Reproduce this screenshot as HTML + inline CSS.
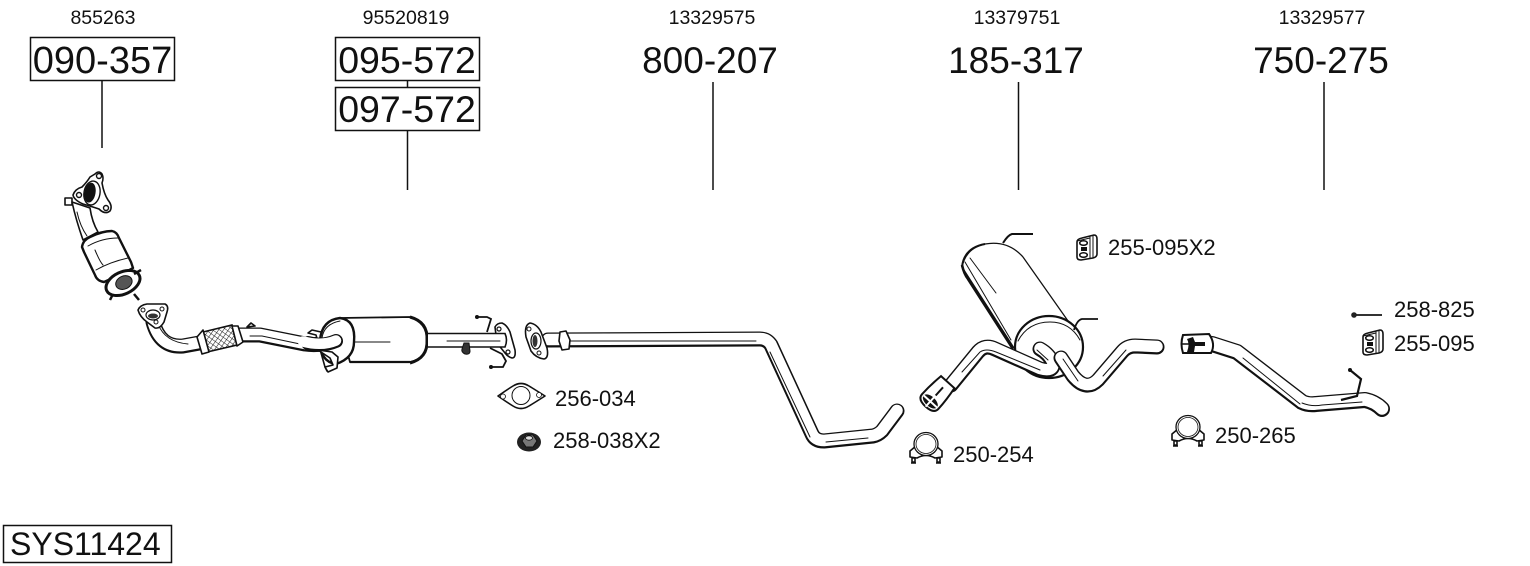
<!DOCTYPE html>
<html><head><meta charset="utf-8"><style>
html,body{margin:0;padding:0;background:#fff;width:1530px;height:566px;overflow:hidden}
svg{display:block}
text{font-family:"Liberation Sans",sans-serif;fill:#111}
.s{font-size:19.500px}.b{font-size:37px}.m{font-size:22px}
.k{fill:none;stroke:#111;stroke-linejoin:round;stroke-linecap:round}
.w{fill:none;stroke:#fff;stroke-linejoin:round;stroke-linecap:round;transform:translate(0,-.5px)}
.f{fill:#fff;stroke:#111;stroke-width:1.6;stroke-linejoin:round}
.t{fill:none;stroke:#111;stroke-width:1;stroke-linecap:round}
</style></head><body>
<svg width="1530" height="566" viewBox="0 0 1530 566" xmlns="http://www.w3.org/2000/svg">
<defs>
<pattern id="h" width="4" height="4" patternUnits="userSpaceOnUse" patternTransform="rotate(35)">
<rect width="4" height="4" fill="#fff"/><path d="M0 0H4M0 0V4" stroke="#222" stroke-width="1.100"/></pattern>
<g id="clamp">
<path class="f" d="M-10,2 L-16,7 L-16,13 L-9,14 Q0,9 9,14 L16,13 L16,7 L10,2Z" stroke-width="1.200"/>
<ellipse cx="0" cy="0" rx="12" ry="11.500" fill="#fff" stroke="#111" stroke-width="1.300"/>
<ellipse cx="0" cy="0" rx="10" ry="9.500" fill="#fff" stroke="#111" stroke-width=".8"/>
<path class="f" d="M-14,14h3v4h-3zM11,14h3v4h-3z" stroke-width="1.100"/>
<path d="M-15,19h5M10,19h5" stroke="#111" stroke-width="1.500"/></g>
<g id="rub"><path class="f" d="M-10,-6 Q-10,-9 -5,-10 L7,-13 Q10,-13 10,-9 L10,6 Q10,9 6,10 L-6,12 Q-10,12 -10,9Z" stroke-width="1.800"/>
<path class="t" d="M3,-11 L3,10M6,-12 L6,10" stroke-width="1.400"/>
<path d="M-10,-7 L3,-10" stroke="#111" stroke-width="1"/>
<ellipse cx="-3.500" cy="-5" rx="3.800" ry="2.300" fill="#fff" stroke="#111" stroke-width="1.500"/><ellipse cx="-3.500" cy="7" rx="3.800" ry="2.300" fill="#fff" stroke="#111" stroke-width="1.500"/><rect x="-6" y="-1" width="6" height="4" fill="#111"/></g>
</defs>

<!-- labels -->
<text class="s" x="103" y="24" text-anchor="middle">855263</text>
<text class="s" x="406" y="24" text-anchor="middle">95520819</text>
<text class="s" x="712" y="24" text-anchor="middle">13329575</text>
<text class="s" x="1017" y="24" text-anchor="middle">13379751</text>
<text class="s" x="1322" y="24" text-anchor="middle">13329577</text>

<rect x="30.500" y="37.500" width="144" height="43" fill="#fff" stroke="#111" stroke-width="1.500"/>
<rect x="335.500" y="37.500" width="144" height="43" fill="#fff" stroke="#111" stroke-width="1.500"/>
<rect x="335.500" y="87.500" width="144" height="43" fill="#fff" stroke="#111" stroke-width="1.500"/>
<rect x="3.500" y="525.500" width="168" height="37" fill="#fff" stroke="#111" stroke-width="1.500"/>
<path d="M102,80V148M407.500,80V87M407.500,130V190M713,82V190M1018.500,82V190M1324,82V190" stroke="#111" stroke-width="1.500" fill="none"/>

<text x="102.500" y="73" text-anchor="middle" style="font-size:38px">090-357</text>
<text x="407" y="73" text-anchor="middle" style="font-size:37.500px">095-572</text>
<text x="407" y="122" text-anchor="middle" style="font-size:37.500px">097-572</text>
<text class="b" x="710" y="73" text-anchor="middle">800-207</text>
<text class="b" x="1016" y="73" text-anchor="middle">185-317</text>
<text class="b" x="1321" y="73" text-anchor="middle">750-275</text>
<text x="10" y="555" style="font-size:32px">SYS11424</text>

<text class="m" x="1108" y="255">255-095X2</text>
<text class="m" x="1394" y="317">258-825</text>
<text class="m" x="1394" y="351">255-095</text>
<text class="m" x="555" y="406">256-034</text>
<text class="m" x="553" y="448">258-038X2</text>
<text class="m" x="953" y="462">250-254</text>
<text class="m" x="1215" y="443">250-265</text>

<!-- catalytic converter -->
<path class="f" d="M65,198h7v7h-7z" stroke-width="1.400"/>
<path class="f" d="M72,202 Q76,220 83,240 L98,232 Q92,222 90,208Z" stroke-width="2"/>
<path class="t" d="M77,212 Q80,226 87,236"/>
<path d="M82,247 Q83,240 90,237 Q102,231 112,231 Q117,232 119,238 L131,262 L133,268 Q118,276 104,282 Q97,281 95,275 L84,252Z" fill="#fff" stroke="#111" stroke-width="2.400" stroke-linejoin="round"/>
<path class="t" d="M88,246 Q102,238 118,238M96,270 Q110,262 128,258M95,250 Q100,262 103,265"/>
<g transform="rotate(-25 123 283)"><ellipse cx="123" cy="283" rx="18" ry="11" fill="#fff" stroke="#111" stroke-width="3"/><ellipse cx="124" cy="283" rx="8.500" ry="6.500" fill="#555" stroke="#111" stroke-width="1"/></g>
<path d="M134,274l7,-4M134,294l5,6M113,294l-3,6" stroke="#111" stroke-width="2.500" fill="none"/>
<path class="f" stroke-width="2.600" d="M95,174 Q99,170 102,174 Q104,178 102,183 Q104,194 108,200 Q113,206 110,211 Q105,215 99,209 Q90,206 83,204 Q74,200 73,195 Q75,189 82,187 Q87,182 90,177Z"/>
<g transform="rotate(10 92 193)"><ellipse cx="92" cy="193" rx="8" ry="12" fill="#fff" stroke="#111" stroke-width="1.400"/><ellipse cx="90" cy="193" rx="5.500" ry="10" fill="#111"/></g>
<circle cx="99" cy="176" r="2.500" fill="#fff" stroke="#111" stroke-width="1.400"/><circle cx="79" cy="195" r="2.500" fill="#fff" stroke="#111" stroke-width="1.400"/><circle cx="106" cy="208" r="2.500" fill="#fff" stroke="#111" stroke-width="1.400"/>

<!-- front pipe -->
<path class="k" stroke-width="15" d="M153,322 Q160,348 183,346 L205,342"/>
<path class="w" stroke-width="11.500" d="M153,322 Q160,348 183,346 L205,342"/>
<path class="t" d="M158,324 Q165,342 188,344"/>
<path class="f" stroke-width="2.400" d="M138,310 Q140,305 147,304 L165,304 Q169,306 167,312 L164,322 Q160,329 155,328 L147,322 Q140,317 138,310Z"/>
<ellipse cx="153" cy="315" rx="7" ry="5" fill="#fff" stroke="#111" stroke-width="1.200"/><ellipse cx="153" cy="316" rx="5" ry="2.500" fill="#333"/>
<circle cx="143" cy="310" r="2" fill="#fff" stroke="#111"/><circle cx="162" cy="309" r="2" fill="#fff" stroke="#111"/><circle cx="156" cy="322" r="2" fill="#fff" stroke="#111"/>
<path class="k" stroke-width="15" d="M238,335 L260,335 L305,344 Q320,346 337,341"/>
<path class="w" stroke-width="11.500" d="M238,335 L260,335 L305,344 Q320,346 337,341"/>
<path class="t" d="M250,336 L262,336 L300,344"/>
<path d="M203,332 L232,325 L237,345 L207,352Z" fill="url(#h)" stroke="#111" stroke-width="1.600"/>
<path class="f" stroke-width="1.800" d="M197,337 L203,330 L209,352 L202,354Z"/>
<path class="f" stroke-width="1.800" d="M232,326 L238,326 L243,342 L237,346Z"/>
<path class="f" stroke-width="1.400" d="M247,327 l4,-4 l4,3z"/>

<!-- middle silencer -->
<path class="f" stroke-width="1.800" d="M316,335 L308,333 L312,330 L321,332 L338,352 L337,367 L327,371 L325,367 Z"/>
<path d="M340,318 L410,317 Q428,322 427,340 Q428,358 410,362 L350,362 Q344,342 340,318Z" fill="#fff" stroke="#111" stroke-width="1.800"/>
<path d="M410,317 Q428,322 427,340 Q428,358 410,363" fill="none" stroke="#111" stroke-width="3"/>
<path d="M350,362 H410" stroke="#111" stroke-width="2.200"/>
<path class="t" d="M355,342 L390,342"/>
<path d="M340,318 Q356,320 354,342 Q354,358 336,364 Q320,362 320,340 Q322,320 340,318Z" fill="#fff" stroke="#111" stroke-width="2.400"/>
<path class="t" d="M340,321 Q324,324 322,338"/>
<path class="k" stroke-width="14" d="M308,343 Q322,347 336,341"/><path class="w" stroke-width="10.500" d="M303,342 Q322,347 336,341"/>
<path class="f" stroke-width="1.800" d="M318,350 L332,352 L338,357 L337,368 L328,372 L325,367 L333,365 L330,358Z"/>

<!-- flange + outlet -->
<path class="f" stroke-width="2.600" d="M495,327 Q497,323 502,323 Q507,325 510,332 L515,350 Q516,358 512,358 Q508,357 505,353 L497,343Z"/>
<circle cx="499" cy="329" r="2" fill="#fff" stroke="#111" stroke-width="1.200"/><circle cx="508" cy="352" r="2" fill="#fff" stroke="#111" stroke-width="1.200"/>
<path d="M428,333.500H505Q508,340 505,347H428" fill="#fff" stroke="#111" stroke-width="1.600"/>
<path class="t" d="M447,341H500"/>
<path d="M477,317 H487 L491,319 L487,332" fill="none" stroke="#111" stroke-width="1.800"/><circle cx="477" cy="317" r="2" fill="#111"/>
<path d="M490,348 L502,354 L506,361 L503,367 L491,367" fill="none" stroke="#111" stroke-width="1.800"/><circle cx="491" cy="367" r="2" fill="#111"/>
<path d="M464,343 L469,343 L470,351 Q470,355 465,354 Q461,352 462,349Z" fill="#333" stroke="#111"/>

<!-- 800-207 -->
<path class="k" stroke-width="15" d="M548,340 L760,339 Q767,339 771,345 L812,434 Q815,441 824,441 L873,436 Q878,435 882,431 L897,411"/>
<path class="w" stroke-width="11.500" d="M548,340 L760,339 Q767,339 771,345 L812,434 Q815,441 824,441 L873,436 Q878,435 882,431 L897,411"/>
<path class="t" d="M570,341H756M770,352 L810,437M826,442 L868,438"/>
<path class="f" stroke-width="2.400" d="M530,323 Q537,324 541,332 L547,348 Q549,358 544,359 Q536,358 531,351 L526,337 Q524,325 530,323Z"/>
<ellipse cx="536" cy="341" rx="5" ry="8" fill="#fff" stroke="#111" stroke-width="1.200"/><ellipse cx="535" cy="341" rx="2.500" ry="6" fill="#333"/>
<circle cx="529" cy="329" r="2" fill="#fff" stroke="#111"/><circle cx="539" cy="353" r="2" fill="#fff" stroke="#111"/>
<path class="f" stroke-width="1.800" d="M560,332 L566,331 L570,340 L569,349 L562,350 L559,341Z"/>

<!-- gasket & nut -->
<path class="f" stroke-width="1" d="M498,396 Q508,389 513,386 Q521,381 529,386 Q534,389 545,396 Q534,403 529,406 Q521,411 513,406 Q508,403 498,396Z"/>
<circle cx="521" cy="395.500" r="9" fill="#fff" stroke="#111" stroke-width="1"/><circle cx="503" cy="396.500" r="2.500" fill="#fff" stroke="#111" stroke-width=".8"/><circle cx="539" cy="395" r="2.500" fill="#fff" stroke="#111" stroke-width=".8"/>
<ellipse cx="529" cy="442" rx="12" ry="9.500" fill="#222"/><path d="M522,441 L526,435 L533,435 L537,441 L533,447 L526,447Z" fill="#777" stroke="#111"/><ellipse cx="529" cy="438" rx="3.500" ry="2.200" fill="#ddd" stroke="#111" stroke-width=".8"/>

<!-- rear silencer -->
<path d="M962,267 Q966,248 985,244 Q1008,240 1023,257 L1073,328 L1014,348Z" fill="#fff" stroke="#111" stroke-width="1.300"/>
<path d="M1003,243 Q1008,235 1012,234 H1033M962,267 Q964,248 985,244" fill="none" stroke="#111" stroke-width="2"/>
<path d="M962,265 Q964,274 968,279 L1013,349" fill="none" stroke="#111" stroke-width="2.600"/>
<path class="t" d="M970,258 L996,293M965,262 L1011,340"/>
<ellipse cx="1049" cy="347" rx="34" ry="31" fill="#fff" stroke="#111" stroke-width="2.200"/>
<path class="t" d="M1018,341 Q1028,322 1050,322 Q1070,322 1080,340"/>
<path d="M1074,330 Q1077,320 1082,319 H1098" fill="none" stroke="#111" stroke-width="1.800"/>
<path class="k" stroke-width="15" d="M951,385 L978,352 Q985,344 995,349 L1040,369 Q1054,373 1053,363 Q1049,354 1040,349"/>
<path class="w" stroke-width="11.500" d="M951,385 L978,352 Q985,344 995,349 L1040,369 Q1054,373 1053,363 Q1049,354 1040,349"/>
<path class="t" d="M962,372 L980,352 Q986,348 996,352 L1040,370M1037,350 L1048,360"/>
<path class="k" stroke-width="15" d="M1061,358 L1073,376 Q1086,392 1098,380 L1122,352 Q1127,346 1135,346 L1157,347"/>
<path class="w" stroke-width="11.500" d="M1061,358 L1073,376 Q1086,392 1098,380 L1122,352 Q1127,346 1135,346 L1157,347"/>
<path class="t" d="M1063,359 L1078,381M1103,376 L1126,350"/>
<g transform="rotate(42 937 394)"><path d="M928,378 H946 Q948,392 948,404 Q948,411 937,411 Q926,411 926,404 Q926,392 928,378Z" fill="#fff" stroke="#111" stroke-width="2"/><ellipse cx="937" cy="404" rx="9" ry="5" fill="#111"/><path d="M937,395V411M928,404H946" stroke="#fff" stroke-width="2"/><path d="M937,385V396" stroke="#111" stroke-width="2"/></g>

<!-- tail pipe -->
<path class="k" stroke-width="16" d="M1212,344 L1237,352 L1302,402 Q1308,405 1316,404 L1365,400 Q1375,402 1382,409"/>
<path class="w" stroke-width="12.500" d="M1212,344 L1237,352 L1302,402 Q1308,405 1316,404 L1365,400 Q1375,402 1382,409"/>
<path class="t" d="M1243,358 L1300,404M1302,403 Q1312,407 1322,405 L1362,402"/>
<path d="M1183,335 L1209,334 Q1216,344 1211,353 L1183,353 Q1180,344 1183,335Z" fill="#fff" stroke="#111" stroke-width="2"/>
<path d="M1187,339 Q1190,344 1187,352 L1194,352 L1195,346 L1205,346 V342 L1195,342 L1193,337Z" fill="#111"/>
<path d="M1182,344H1192" stroke="#111" stroke-width="1.500"/>
<path d="M1350,370 L1361,379 L1357,396 L1341,400" fill="none" stroke="#111" stroke-width="2.200"/><circle cx="1350" cy="370" r="2" fill="#111"/>

<!-- small parts -->
<path d="M1353,315 H1382" stroke="#333" stroke-width="2"/><circle cx="1354" cy="315" r="2.800" fill="#222"/>
<use href="#rub" x="1087" y="248"/>
<use href="#rub" x="1373" y="343"/>
<use href="#clamp" x="926" y="444"/>
<use href="#clamp" x="1188" y="427"/>
</svg>
</body></html>
